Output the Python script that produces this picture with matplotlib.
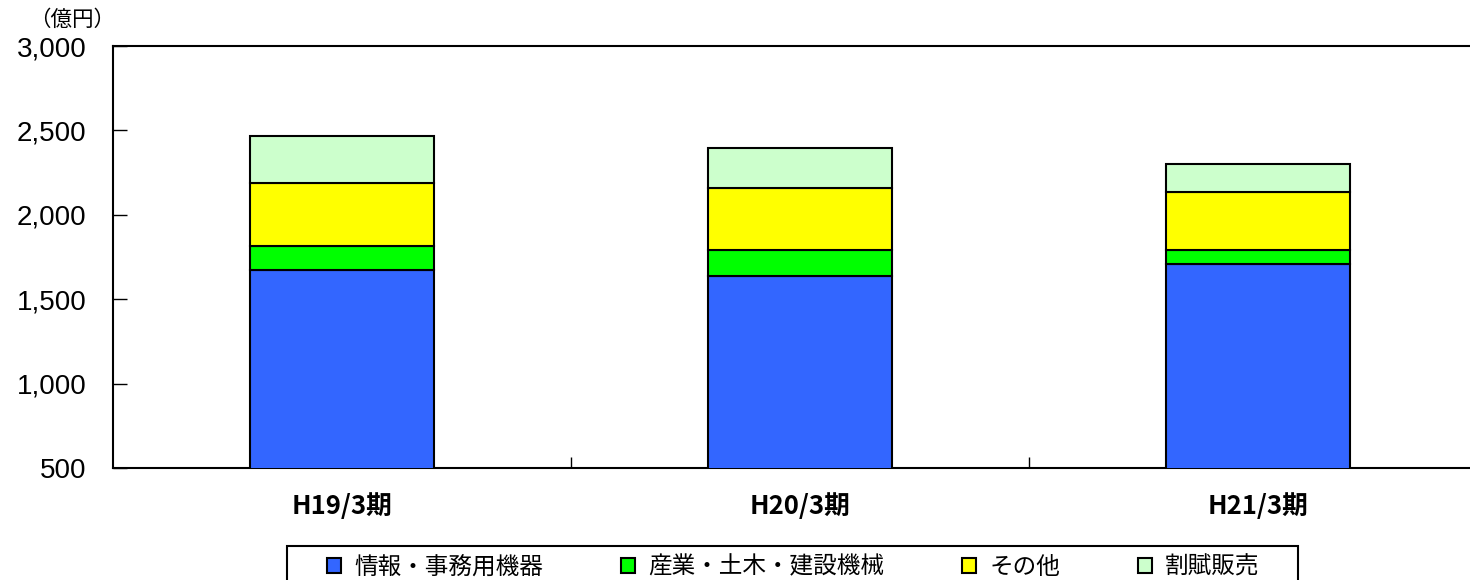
import matplotlib
matplotlib.use("Agg")
import matplotlib.pyplot as plt
from matplotlib.patches import Patch, Rectangle
import numpy as np

categories = ["H19/3期", "H20/3期", "H21/3期"]
series_names = ["情報・事務用機器", "産業・土木・建設機械", "その他", "割賦販売"]
info_office = [1673, 1637, 1708]
industrial = [142, 154, 83]
others = [373, 368, 344]
installment = [279, 237, 166]
yticks = [500, 1000, 1500, 2000, 2500, 3000]
colors = ["#3366FF", "#00FF00", "#FFFF00", "#CCFFCC"]

jp = ["Noto Sans CJK JP", "DejaVu Sans"]

W, H = 1470, 580
fig = plt.figure(figsize=(W / 100, H / 100), dpi=100)
ax = fig.add_axes([113 / W, 112 / H, 1374 / W, 422 / H])

x = np.arange(len(categories))
bottom = np.zeros(len(categories))
for vals, c in zip([info_office, industrial, others, installment], colors):
    ax.bar(x, vals, 0.4, bottom=bottom, color=c, edgecolor="black", linewidth=1.5, zorder=3)
    bottom = bottom + np.array(vals)

ax.set_xlim(-0.5, 2.5)
ax.set_ylim(500, 3000)
ax.set_yticks(yticks)
ax.set_yticklabels([f"{v:,}" for v in yticks], family="Liberation Sans", fontsize=20)
ax.tick_params(axis="y", direction="in", length=10, width=1, pad=19)
ax.set_xticks(x)
ax.set_xticklabels(categories, family=jp, fontsize=18.5, fontweight="bold")
ax.tick_params(axis="x", which="major", length=0, pad=18)
ax.set_xticks([0.5, 1.5], minor=True)
ax.tick_params(axis="x", which="minor", direction="in", length=8, width=1)
for s in ax.spines.values():
    s.set_linewidth(1.5)

fig.text(72 / W, 1 - 20 / H, "（億円）", family=jp, fontsize=15.5, ha="center", va="center")

handles = [Patch(facecolor=c, edgecolor="black", linewidth=1.5) for c in colors]
fig.legend(handles, series_names, loc="center left",
           bbox_to_anchor=(327 / W, 1 - 567 / H), ncol=4, frameon=False,
           prop={"family": jp, "size": 17}, handlelength=0.6, handleheight=0.6,
           handletextpad=0.55, columnspacing=3.3, borderpad=0, borderaxespad=0)
fig.patches.append(Rectangle((287 / W, -0.05), (1298 - 287) / W, 0.05 + (580 - 546) / H,
                             transform=fig.transFigure, fill=False, edgecolor="black",
                             linewidth=1.5, clip_on=False))

fig.savefig("out.png", dpi=100)
